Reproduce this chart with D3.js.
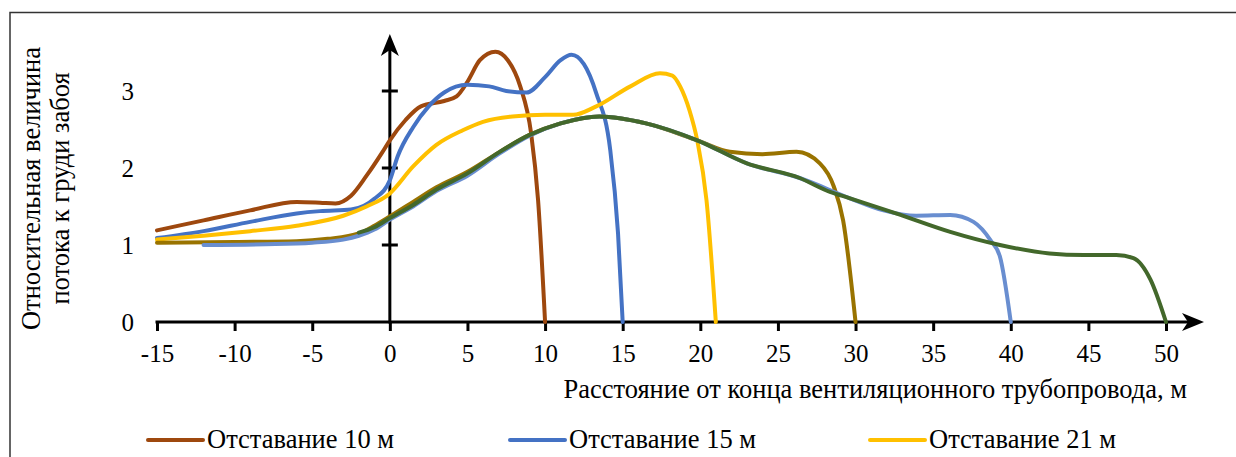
<!DOCTYPE html>
<html>
<head>
<meta charset="utf-8">
<script src="https://cdn.jsdelivr.net/npm/d3@7"></script>
<style>
  body { margin: 0; background: #fff; }
</style>
</head>
<body>
<svg id="chart" width="1236" height="457"></svg>
<script>
// distance from the end of the duct (m) and relative flow value, one list per lag
var lag10 = [[-15,1.19],[-12,1.32],[-9,1.45],[-6,1.56],[-4.5,1.55],[-3.5,1.54],[-2.5,1.64],[-1.5,1.9],[-0.5,2.2],[0,2.36],
  [1,2.62],[2,2.8],[3.5,2.87],[4.3,2.93],[5,3.12],[5.8,3.4],[6.8,3.51],[7.6,3.4],[8.4,3.06],[9.1,2.45],[9.55,1.58],[10,0]];
var lag15 = [[-15,1.09],[-12,1.18],[-9,1.3],[-6,1.41],[-4.5,1.44],[-2.5,1.46],[-1,1.6],[0,1.84],[0.5,2.15],[1.5,2.53],
  [2.5,2.8],[3.5,2.98],[5,3.08],[6.4,3.06],[7.5,3.0],[8.8,2.98],[10,3.18],[11,3.4],[11.7,3.47],[12.5,3.35],[13.3,2.97],
  [14.2,2.23],[14.7,1.15],[15,0]];
var lag21 = [[-15,1.07],[-12,1.12],[-9,1.18],[-6,1.25],[-3,1.38],[-1.5,1.5],[0,1.67],[1.5,2.02],[3,2.3],[4.7,2.49],[6,2.6],
  [7.9,2.67],[10,2.69],[11.8,2.69],[13.3,2.8],[15.5,3.06],[17.4,3.23],[18.2,3.2],[18.7,3.06],[19.3,2.75],[19.8,2.36],
  [20.4,1.58],[21,0]];
var lag30 = [[-15,1.03],[-10,1.04],[-6,1.05],[-4,1.08],[-2,1.15],[-1,1.25],[0,1.37],[1.5,1.56],[3,1.75],[5,1.95],[7,2.2],
  [9,2.43],[11,2.58],[13.5,2.67],[16.5,2.58],[19.8,2.36],[21.9,2.21],[24,2.18],[26.2,2.21],[27.7,2.06],[28.6,1.76],
  [29.2,1.32],[30,0]];
var lag40 = [[-12,1.0],[-8,1.01],[-5,1.03],[-3,1.07],[-2,1.12],[-1,1.2],[0,1.33],[1.5,1.5],[3,1.7],[5,1.9],[7,2.18],
  [9,2.42],[11,2.58],[13.5,2.67],[16.5,2.58],[19.8,2.36],[23,2.06],[26.4,1.87],[29.6,1.61],[31.8,1.45],[33.9,1.38],
  [36.1,1.39],[37.6,1.3],[38.7,1.06],[39.3,0.85],[40,0]];
var lag50 = [[-2,1.16],[-1,1.23],[0,1.35],[1.5,1.52],[3,1.72],[5,1.93],[7,2.2],[9,2.43],[11,2.58],[13.5,2.67],[16.5,2.58],
  [19.8,2.36],[23,2.06],[26.4,1.87],[28.35,1.69],[29.6,1.61],[32.9,1.39],[36.1,1.17],[39.3,1.0],[42.5,0.89],[44.7,0.87],
  [46.8,0.87],[47.9,0.83],[49,0.55],[50,0]];

var seriesNames = ["Отставание 10 м", "Отставание 15 м", "Отставание 21 м",
                   "Отставание 30 м", "Отставание 40 м", "Отставание 50 м"];
var seriesData = [lag10, lag15, lag21, lag30, lag40, lag50];
var colors = ["#9E480E", "#4472C4", "#FFC000", "#997300", "#698ED0", "#43682B"];
var xTicks = d3.range(-15, 51, 5);
var yTicks = [0, 1, 2, 3];

var FONT = "'Liberation Serif', 'DejaVu Serif', 'Times New Roman', serif";

var svg = d3.select("#chart");

var x = d3.scaleLinear().domain([-15, 50]).range([157, 1166]);
var y = d3.scaleLinear().domain([0, 3]).range([322, 91]);

// frame (left and top edges only)
svg.append("path")
    .attr("d", "M10,457V12.5H1236")
    .attr("fill", "none").attr("stroke", "#333").attr("stroke-width", 1.5);

// x axis: ticks and labels from d3, own line with arrow
var xAxis = svg.append("g")
    .attr("transform", "translate(0," + y(0) + ")")
    .call(d3.axisBottom(x).tickValues(xTicks).tickSize(9).tickPadding(13)
      .tickFormat(function(d) { return String(d); }));
xAxis.attr("font-family", FONT).attr("font-size", 25);
xAxis.select(".domain").remove();
xAxis.selectAll(".tick line").attr("stroke", "#000").attr("stroke-width", 3);

svg.append("line")
    .attr("x1", x(-15) - 1.5).attr("x2", 1195)
    .attr("y1", y(0)).attr("y2", y(0))
    .attr("stroke", "#000").attr("stroke-width", 3);
svg.append("path")
    .attr("d", "M1204," + y(0) + "l-22,-9l6,9l-6,9z")
    .attr("fill", "#000");

// y axis at x = 0
var y0x = x(0);
svg.append("line")
    .attr("x1", y0x).attr("x2", y0x)
    .attr("y1", y(0) + 1.5).attr("y2", 50)
    .attr("stroke", "#000").attr("stroke-width", 3);
svg.append("path")
    .attr("d", "M" + y0x + ",34l-9,22l9,-6l9,6z")
    .attr("fill", "#000");
svg.selectAll(".ycross")
    .data(yTicks.filter(function(d) { return d > 0; }))
    .enter().append("line")
    .attr("x1", y0x - 8).attr("x2", y0x + 8)
    .attr("y1", function(d) { return y(d); }).attr("y2", function(d) { return y(d); })
    .attr("stroke", "#000").attr("stroke-width", 3);

// y tick labels sit away from the axis, on the left
var yAxis = svg.append("g")
    .attr("transform", "translate(134,0)")
    .call(d3.axisLeft(y).tickValues(yTicks).tickSize(0).tickPadding(0)
      .tickFormat(function(d) { return String(d); }));
yAxis.attr("font-family", FONT).attr("font-size", 25);
yAxis.select(".domain").remove();

// series lines
var line = d3.line()
    .x(function(d) { return x(d[0]); })
    .y(function(d) { return y(d[1]); })
    .curve(d3.curveMonotoneX);

svg.selectAll(".series")
    .data(seriesData)
    .enter().append("path")
    .attr("class", "series")
    .attr("d", line)
    .attr("fill", "none")
    .attr("stroke", function(d, i) { return colors[i]; })
    .attr("stroke-width", 4)
    .attr("stroke-linecap", "round")
    .attr("stroke-linejoin", "round");

// axis titles
svg.append("text")
    .attr("x", 1187).attr("y", 398)
    .attr("text-anchor", "end")
    .attr("font-family", FONT).attr("font-size", 26.5)
    .text("Расстояние от конца вентиляционного трубопровода, м");

var yTitle = svg.append("text")
    .attr("transform", "translate(0,188.5) rotate(-90)")
    .attr("text-anchor", "middle")
    .attr("font-family", FONT).attr("font-size", 26.5);
yTitle.append("tspan").attr("x", 0).attr("y", 40).text("Относительная величина");
yTitle.append("tspan").attr("x", 0).attr("y", 69).text("потока к груди забоя");

// legend (only the first row fits in the picture)
var legendX = [148, 510, 870];
var legend = svg.selectAll(".legend")
    .data(seriesNames.slice(0, 3))
    .enter().append("g")
    .attr("class", "legend")
    .attr("transform", function(d, i) { return "translate(" + legendX[i] + ",440)"; });
legend.append("line")
    .attr("x1", 0).attr("x2", 55)
    .attr("stroke", function(d, i) { return colors[i]; })
    .attr("stroke-width", 4).attr("stroke-linecap", "round");
legend.append("text")
    .attr("x", 59).attr("y", 8)
    .attr("font-family", FONT).attr("font-size", 26.5)
    .text(function(d) { return d; });
</script>
</body>
</html>
